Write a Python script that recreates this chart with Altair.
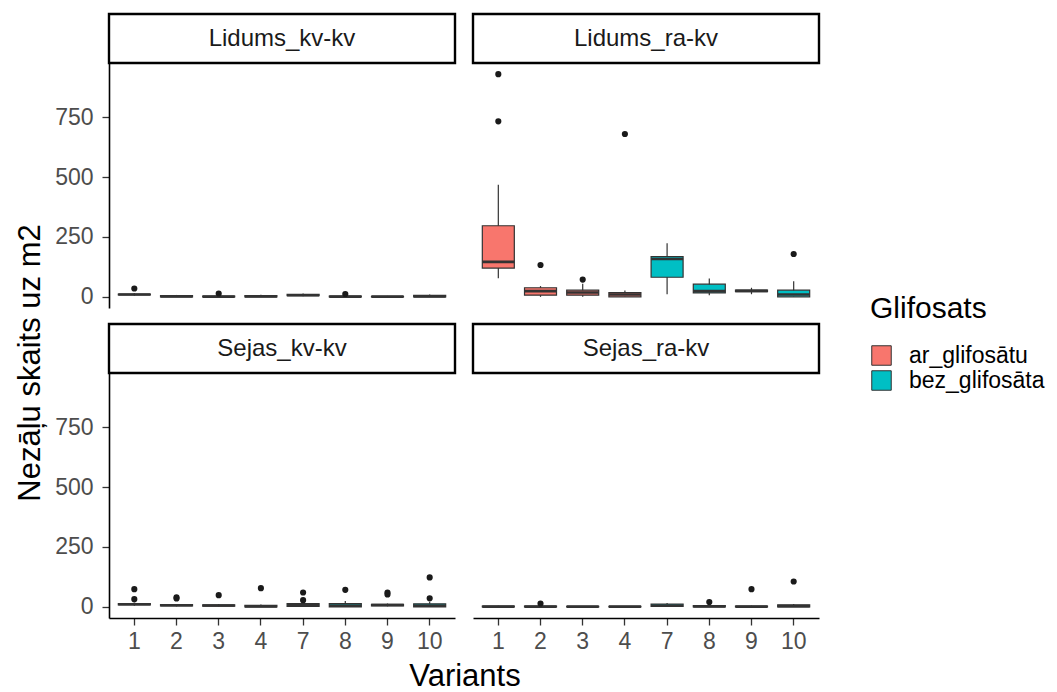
import altair as alt
import pandas as pd

# ---------------- data ----------------
variants = ["1", "2", "3", "4", "7", "8", "9", "10"]
groups = ["ar_glifosātu"] * 4 + ["bez_glifosāta"] * 4
panels = ["Lidums_kv-kv", "Lidums_ra-kv", "Sejas_kv-kv", "Sejas_ra-kv"]

# box statistics per panel: lower whisker, q1, median, q3, upper whisker
lk_lo = [5, 0, 0, 0, 3, 0, 0, 0]
lk_q1 = [8, 0, 0, 0, 5, 0, 0, 0]
lk_med = [10, 2, 1, 2, 7, 1, 1, 2]
lk_q3 = [12, 5, 3, 5, 10, 3, 2, 6]
lk_hi = [16, 8, 6, 9, 14, 6, 4, 10]
lk_out_var = ["1", "3", "8"]
lk_out_val = [35, 14, 12]

lr_lo = [78, 0, 0, 0, 11, 7, 11, 0]
lr_q1 = [120, 7, 7, 0, 82, 17, 22, 0]
lr_med = [146, 24, 18, 10, 158, 24, 25, 10]
lr_q3 = [297, 38, 28, 18, 168, 53, 28, 28]
lr_hi = [468, 45, 55, 27, 224, 77, 38, 65]
lr_out_var = ["1", "1", "2", "3", "4", "10"]
lr_out_val = [930, 733, 133, 72, 680, 179]

sk_lo = [5, 2, 1, 0, 0, 0, 2, 0]
sk_q1 = [8, 4, 3, 0, 2, 0, 4, 0]
sk_med = [11, 7, 6, 2, 8, 5, 8, 5]
sk_q3 = [14, 9, 8, 6, 14, 14, 10, 13]
sk_hi = [18, 12, 12, 10, 20, 25, 14, 22]
sk_out_var = ["1", "1", "2", "2", "3", "4", "7", "7", "8", "9", "9", "10", "10"]
sk_out_val = [74, 32, 40, 35, 49, 78, 60, 28, 71, 60, 52, 123, 36]

sr_lo = [0, 0, 0, 0, 1, 0, 0, 0]
sr_q1 = [0, 0, 0, 0, 2, 0, 0, 0]
sr_med = [1, 1, 1, 1, 6, 2, 1, 3]
sr_q3 = [3, 3, 2, 2, 12, 5, 3, 8]
sr_hi = [5, 6, 4, 4, 16, 9, 5, 12]
sr_out_var = ["2", "8", "9", "10"]
sr_out_val = [14, 20, 74, 106]

stats = {
    "Lidums_kv-kv": (lk_lo, lk_q1, lk_med, lk_q3, lk_hi, lk_out_var, lk_out_val),
    "Lidums_ra-kv": (lr_lo, lr_q1, lr_med, lr_q3, lr_hi, lr_out_var, lr_out_val),
    "Sejas_kv-kv": (sk_lo, sk_q1, sk_med, sk_q3, sk_hi, sk_out_var, sk_out_val),
    "Sejas_ra-kv": (sr_lo, sr_q1, sr_med, sr_q3, sr_hi, sr_out_var, sr_out_val),
}

y_ticks = [0, 250, 500, 750]
group_names = ["ar_glifosātu", "bez_glifosāta"]
group_colors = ["#F8766D", "#00BFC4"]

# ---------------- layout constants ----------------
W = 346
H = 245
STRIP = 49
FONT = "Liberation Sans"
SMALL = 23
BIG = 31
Y_DOMAIN = [-46.5, 976.5]


def make_panel(name, width, show_y, show_x, extra=None):
    lo, q1, med, q3, hi, ov, oval = stats[name]
    box_df = pd.DataFrame({"variant": variants, "group": groups, "lo": lo,
                           "q1": q1, "med": med, "q3": q3, "hi": hi})
    out_df = pd.DataFrame({"variant": ov, "value": oval})
    grp = dict(zip(variants, groups))
    out_df["group"] = out_df["variant"].map(grp)

    x_axis = (alt.Axis(title=None, labelFontSize=SMALL, labelColor="#4D4D4D", labelFont=FONT,
                       domainColor="black", domainWidth=1.6, tickColor="#333333",
                       tickWidth=1.3, tickSize=7, labelPadding=5, labelAngle=0, grid=False)
              if show_x else None)
    y_axis = (alt.Axis(title=None, values=y_ticks, labelFontSize=SMALL, labelColor="#4D4D4D",
                       labelFont=FONT, domainColor="black", domainWidth=1.6,
                       tickColor="#333333", tickWidth=1.3, tickSize=7, labelPadding=9,
                       grid=False)
              if show_y else None)
    xs = alt.Scale(domain=variants, paddingInner=0.0, paddingOuter=0.1)
    ys = alt.Scale(domain=Y_DOMAIN, nice=False, zero=False)
    X = alt.X("variant:N", scale=xs, axis=x_axis, sort=variants)

    color = alt.Color("group:N", scale=alt.Scale(domain=group_names, range=group_colors),
                      legend=alt.Legend(title="Glifosats", orient="none", legendX=761,
                                        legendY=231, titleFontSize=30, titleFont=FONT,
                                        titleFontWeight="normal", titleColor="black",
                                        labelFontSize=SMALL, labelFont=FONT, labelColor="black",
                                        symbolType="square", symbolSize=380,
                                        symbolStrokeColor="#333333", symbolStrokeWidth=1,
                                        symbolOpacity=1, rowPadding=0, titlePadding=20,
                                        labelOffset=16))

    base = alt.Chart(box_df)
    whisk = base.mark_rule(color="#333333", strokeWidth=1.2).encode(
        x=X, y=alt.Y("lo:Q", scale=ys, axis=y_axis), y2="hi:Q")
    box = base.mark_bar(size=32, stroke="#333333", strokeWidth=1.2, opacity=1).encode(
        x=X, y=alt.Y("q1:Q", scale=ys, axis=y_axis), y2="q3:Q", color=color)
    median = base.mark_tick(size=32, thickness=2.6, color="#333333", opacity=1).encode(
        x=X, y=alt.Y("med:Q", scale=ys, axis=y_axis))
    outl = alt.Chart(out_df).mark_circle(size=38, color="#1A1A1A", opacity=1).encode(
        x=X, y=alt.Y("value:Q", scale=ys, axis=y_axis))

    sdf = pd.DataFrame({"t": [name]})
    strip_rect = alt.Chart(sdf).mark_rect(fill="white", stroke="black", strokeWidth=2.4).encode(
        x=alt.value(0), x2=alt.value(width), y=alt.value(-STRIP), y2=alt.value(0))
    strip_text = alt.Chart(sdf).mark_text(fontSize=24, font=FONT, color="#1A1A1A",
                                          baseline="middle", align="center").encode(
        x=alt.value(width / 2), y=alt.value(-STRIP / 2), text="t:N")

    layers = [whisk, box, median, outl, strip_rect, strip_text]
    if extra:
        layers += extra
    return alt.layer(*layers).properties(
        width=width, height=H,
        view=alt.ViewBackground(strokeWidth=0, strokeOpacity=0, stroke="transparent"))


tdf = pd.DataFrame({"t": ["Nezāļu skaits uz m2"], "u": ["Variants"]})
y_title = alt.Chart(tdf).mark_text(fontSize=BIG, font=FONT, color="black", angle=270,
                                   align="center", baseline="middle").encode(
    x=alt.value(-78), y=alt.value(-10), text="t:N")
x_title = alt.Chart(tdf).mark_text(fontSize=BIG, font=FONT, color="black",
                                   align="center", baseline="alphabetic").encode(
    x=alt.value(356), y=alt.value(H + 68), text="u:N")

tl = make_panel("Lidums_kv-kv", W, True, False)
tr = make_panel("Lidums_ra-kv", W, False, False)
bl = make_panel("Sejas_kv-kv", W, True, True, extra=[y_title, x_title])
br = make_panel("Sejas_ra-kv", W, False, True)

chart = alt.concat(tl, tr, bl, br, columns=2, spacing={"row": 65, "column": 18},
                   bounds="flush").properties(
    padding={"left": 14, "top": 12, "right": 2, "bottom": 0}
).configure_view(strokeWidth=0, stroke="transparent", strokeOpacity=0).configure(
    background="white")

chart.save("out.html", embed_options={"renderer": "svg", "actions": False})
